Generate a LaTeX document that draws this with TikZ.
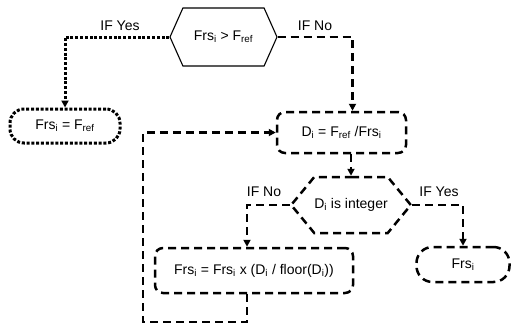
\documentclass[tikz,border=0pt]{standalone}
\usepackage{fontspec}
\setmainfont{Liberation Sans}
\usepackage{tikz}
\usetikzlibrary{arrows.meta,positioning,shapes.symbols,calc}

\begin{document}
\begin{tikzpicture}[
  x=1pt, y=-1pt,
  font=\fontsize{14}{16}\selectfont,
  hexa/.style={
    signal,
    signal to=west and east,
    draw=black,
    inner sep=0pt,
    align=center
  },
  proc/.style={
    rectangle,
    rounded corners=8pt,
    draw=black,
    inner sep=0pt,
    align=center
  },
  dotline/.style={line width=3pt, dash pattern=on 3pt off 1.8pt},
  dashline/.style={line width=2.5pt, dash pattern=on 8pt off 5pt},
  line/.style={-{Triangle[length=7pt,width=7pt]}}
]
\useasboundingbox (0,0) rectangle (515,325);

\node[hexa, line width=1.1pt, signal pointer angle=132, minimum width=107pt, minimum height=58pt] (check) at (223.5,37) {Frs\textsubscript{i} > F\textsubscript{ref}};

\node[proc, dotline, rounded corners=14pt, minimum width=110pt, minimum height=34pt] (yesref) at (65,126) {Frs\textsubscript{i} = F\textsubscript{ref}};

\node[proc, dashline, minimum width=129pt, minimum height=41pt] (ratio) at (341.5,132.5) {D\textsubscript{i} = F\textsubscript{ref} /Frs\textsubscript{i}};

\node[hexa, dashline, signal pointer angle=101, minimum width=108pt, minimum height=56pt] (integer) at (351,205) {D\textsubscript{i} is integer};

\node[proc, dashline, minimum width=198pt, minimum height=45pt] (update) at (254,270.5) {Frs\textsubscript{i} = Frs\textsubscript{i} x (D\textsubscript{i} / floor(D\textsubscript{i}))};

\node[proc, dashline, rounded corners=16pt, minimum width=93pt, minimum height=35pt] (result) at (463,264.5) {Frs\textsubscript{i}};

\node (yes1) at (120,26) {IF Yes};
\node (no1) at (315,26) {IF No};
\node (no2) at (264,192) {IF No};
\node (yes2) at (439,192) {IF Yes};

\coordinate (back) at (143,322);

\draw[line, dotline] (check.west) -| (yesref.north);
\draw[line, dashline] (check.east) -| ([xshift=11pt]ratio.north);
\draw[line, dashline] (ratio.south -| integer.north) -- (integer.north);
\draw[line, dashline] (integer.west) -| ([xshift=-7pt]update.north);
\draw[line, dashline] (integer.east) -| (result.north);
\draw[line, dashline] ([xshift=-7pt]update.south) |- (back) |- (ratio.west);

\end{tikzpicture}
\end{document}
